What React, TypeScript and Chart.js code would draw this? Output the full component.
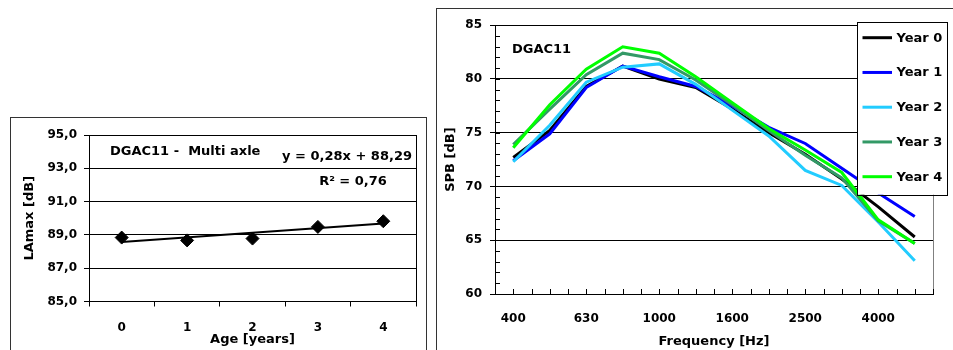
import React, { useEffect, useRef } from 'react';
import { Chart, registerables } from 'chart.js';

Chart.register(...registerables);

// ---------- Left chart data ----------
const ageLabels = ['0', '1', '2', '3', '4'];
const laMaxValues = [88.84, 88.67, 88.78, 89.48, 89.82];
const trendValues = [88.57, null, null, null, 89.69];
const leftTitle = 'DGAC11 -  Multi axle';
const trendEquation = 'y = 0,28x + 88,29';
const trendR2 = 'R² = 0,76';

// ---------- Right chart data ----------
const freqLabels = ['400', '500', '630', '800', '1000', '1250', '1600', '2000', '2500', '3150', '4000', '5000'];
const year0 = [72.7, 75.2, 79.3, 81.2, 80.0, 79.2, 77.2, 75.0, 73.0, 70.7, 68.1, 65.3];
const year1 = [72.4, 74.9, 79.2, 81.2, 80.2, 79.3, 77.5, 75.5, 74.0, 71.7, 69.4, 67.2];
const year2 = [72.3, 75.7, 79.7, 81.1, 81.4, 79.5, 77.1, 74.7, 71.5, 70.1, 66.7, 63.1];
const year3 = [73.9, 77.2, 80.4, 82.4, 81.8, 79.9, 77.6, 75.2, 72.9, 70.8, 66.8, 64.7];
const year4 = [73.6, 77.6, 80.9, 83.0, 82.4, 80.2, 77.8, 75.4, 73.4, 71.3, 66.9, 64.7];
const seriesNames = ['Year 0', 'Year 1', 'Year 2', 'Year 3', 'Year 4'];
const seriesColors = ['#000000', '#0000FF', '#22CCFF', '#339966', '#00FF00'];
const rightTitle = 'DGAC11';

const FAMILY = '"DejaVu Sans", "Liberation Sans", sans-serif';
const tickFont = { family: FAMILY, size: 12, weight: 'bold' as const };
const titleFont = { family: FAMILY, size: 13, weight: 'bold' as const };

function LeftChart() {
  const ref = useRef<HTMLCanvasElement | null>(null);
  useEffect(() => {
    if (!ref.current) return;
    const decor = {
      id: 'leftDecor',
      afterDraw(chart: any) {
        const { ctx, chartArea: a } = chart;
        ctx.save();
        ctx.strokeStyle = '#000';
        ctx.lineWidth = 1;
        ctx.beginPath();
        ctx.moveTo(Math.round(a.right) + 0.5, a.top);
        ctx.lineTo(Math.round(a.right) + 0.5, a.bottom);
        ctx.stroke();
        ctx.fillStyle = '#000';
        ctx.font = `bold 13px ${FAMILY}`;
        ctx.textBaseline = 'middle';
        ctx.textAlign = 'left';
        ctx.fillText(leftTitle, a.left + 21, a.top + 17);
        ctx.textAlign = 'center';
        ctx.fillText(trendEquation, a.left + 258, a.top + 22);
        ctx.fillText(trendR2, a.left + 264, a.top + 47);
        ctx.restore();
      },
    };
    const chart = new Chart(ref.current, {
      type: 'line',
      data: {
        labels: ageLabels,
        datasets: [
          {
            label: 'LAmax',
            data: laMaxValues,
            showLine: false,
            pointStyle: 'rectRot',
            pointRadius: 6.5,
            pointBackgroundColor: '#000',
            pointBorderColor: '#000',
            borderColor: '#000',
            backgroundColor: '#000',
            order: 0,
          },
          {
            label: 'Trend',
            data: trendValues as any,
            spanGaps: true,
            borderColor: '#000',
            borderWidth: 2,
            pointRadius: 0,
            tension: 0,
            order: 1,
          },
        ],
      },
      options: {
        animation: false,
        responsive: false,
        events: [],
        layout: { padding: { left: 0, right: 10, top: 17, bottom: 0 } },
        plugins: { legend: { display: false }, tooltip: { enabled: false } },
        scales: {
          x: {
            type: 'category',
            offset: true,
            grid: { offset: true, drawOnChartArea: false, drawTicks: true, tickLength: 5, color: '#000' },
            border: { color: '#000' },
            ticks: { font: tickFont, color: '#000', padding: 14, maxRotation: 0, autoSkip: false },
            title: { display: true, text: 'Age [years]', font: titleFont, color: '#000', padding: { top: 0, bottom: 3 } },
            afterFit: (s: any) => { s.height = 48.5; },
          },
          y: {
            min: 85,
            max: 95,
            ticks: {
              stepSize: 2,
              font: tickFont,
              color: '#000',
              padding: 7,
              callback: (v: any) => Number(v).toFixed(1).replace('.', ','),
            },
            grid: { color: '#000', tickLength: 5 },
            border: { color: '#000' },
            title: { display: true, text: 'LAmax [dB]', font: titleFont, color: '#000', padding: { top: 11, bottom: 0 } },
            afterFit: (s: any) => { s.width = 78; },
          },
        },
      } as any,
      plugins: [decor],
    });
    return () => chart.destroy();
  }, []);
  return <canvas ref={ref} width={415} height={232} style={{ position: 'absolute', left: 11, top: 118, width: 415, height: 232 }} />;
}

function RightChart() {
  const ref = useRef<HTMLCanvasElement | null>(null);
  useEffect(() => {
    if (!ref.current) return;
    const decor = {
      id: 'rightDecor',
      afterDraw(chart: any) {
        const { ctx, chartArea: a, scales } = chart;
        const x = scales.x;
        const y = scales.y;
        ctx.save();
        // plot border right
        ctx.strokeStyle = '#808080';
        ctx.lineWidth = 1;
        ctx.beginPath();
        ctx.moveTo(Math.round(a.right) + 0.5, a.top);
        ctx.lineTo(Math.round(a.right) + 0.5, a.bottom);
        ctx.stroke();
        // minor y ticks inside
        ctx.strokeStyle = '#000';
        ctx.beginPath();
        for (let v = y.min; v <= y.max; v += 1) {
          const py = Math.round(y.getPixelForValue(v)) + 0.5;
          ctx.moveTo(a.left, py);
          ctx.lineTo(a.left + 5, py);
        }
        // x ticks inside, at centers and boundaries
        const half = (x.getPixelForValue(1) - x.getPixelForValue(0)) / 2;
        for (let i = 0; i < freqLabels.length; i++) {
          const c = x.getPixelForValue(i);
          for (const px of [c - half, c, c + half]) {
            const rx = Math.round(px) + 0.5;
            ctx.moveTo(rx, a.bottom);
            ctx.lineTo(rx, a.bottom - 5);
          }
        }
        ctx.stroke();
        // annotation
        ctx.fillStyle = '#000';
        ctx.font = `bold 13px ${FAMILY}`;
        ctx.textBaseline = 'middle';
        ctx.textAlign = 'left';
        ctx.fillText(rightTitle, a.left + 17, a.top + 24);
        // legend box
        const lx = a.right - 76;
        const ly = a.top - 3.5;
        const lw = 90;
        const lh = 173;
        ctx.fillStyle = '#fff';
        ctx.fillRect(lx, ly, lw, lh);
        ctx.strokeStyle = '#000';
        ctx.strokeRect(Math.round(lx) + 0.5, Math.round(ly) + 0.5, lw, lh);
        chart.data.datasets.forEach((ds: any, i: number) => {
          const cy = ly + 16 + i * 34.75;
          ctx.strokeStyle = ds.borderColor;
          ctx.lineWidth = 3;
          ctx.beginPath();
          ctx.moveTo(lx + 5.5, cy);
          ctx.lineTo(lx + 35, cy);
          ctx.stroke();
          ctx.fillStyle = '#000';
          ctx.fillText(ds.label, lx + 39.5, cy + 0.5);
        });
        ctx.restore();
      },
    };
    const allSeries = [year0, year1, year2, year3, year4];
    const chart = new Chart(ref.current, {
      type: 'line',
      data: {
        labels: freqLabels,
        datasets: allSeries.map((d, i) => ({
          label: seriesNames[i],
          data: d,
          borderColor: seriesColors[i],
          backgroundColor: seriesColors[i],
          borderWidth: 3,
          pointRadius: 0,
          tension: 0,
          order: allSeries.length - 1 - i,
        })),
      },
      options: {
        animation: false,
        responsive: false,
        events: [],
        layout: { padding: { left: 0, right: 20, top: 13, bottom: 0 } },
        plugins: { legend: { display: false }, tooltip: { enabled: false } },
        scales: {
          x: {
            type: 'category',
            offset: true,
            grid: { offset: true, display: true, drawOnChartArea: false, drawTicks: false, color: '#000' },
            border: { color: '#000' },
            ticks: {
              font: tickFont,
              color: '#000',
              padding: 18,
              maxRotation: 0,
              autoSkip: false,
              callback: (_v: any, idx: number) => (idx % 2 === 0 ? freqLabels[idx] : ''),
            },
            title: { display: true, text: 'Frequency [Hz]', font: titleFont, color: '#000', padding: { top: 0, bottom: 1 } },
            afterFit: (s: any) => { s.height = 56; },
          },
          y: {
            min: 60,
            max: 85,
            ticks: { stepSize: 5, font: tickFont, color: '#000', padding: 8 },
            grid: { color: '#000', tickLength: 5 },
            border: { color: '#000' },
            title: { display: true, text: 'SPB [dB]', font: titleFont, color: '#000', padding: { top: 5, bottom: 0 } },
            afterFit: (s: any) => { s.width = 57; },
          },
        },
      } as any,
      plugins: [decor],
    });
    return () => chart.destroy();
  }, []);
  return <canvas ref={ref} width={515} height={340} style={{ position: 'absolute', left: 438, top: 10, width: 515, height: 340 }} />;
}

export default function App() {
  return (
    <div style={{ position: 'fixed', left: 0, top: 0, width: 953, height: 350, overflow: 'hidden', background: '#fff' }}>
      <div style={{ position: 'absolute', left: 10, top: 117, width: 417, height: 300, border: '1px solid #333', boxSizing: 'border-box' }} />
      <div style={{ position: 'absolute', left: 436, top: 8, width: 600, height: 400, border: '1px solid #333', boxSizing: 'border-box' }} />
      <LeftChart />
      <RightChart />
    </div>
  );
}
